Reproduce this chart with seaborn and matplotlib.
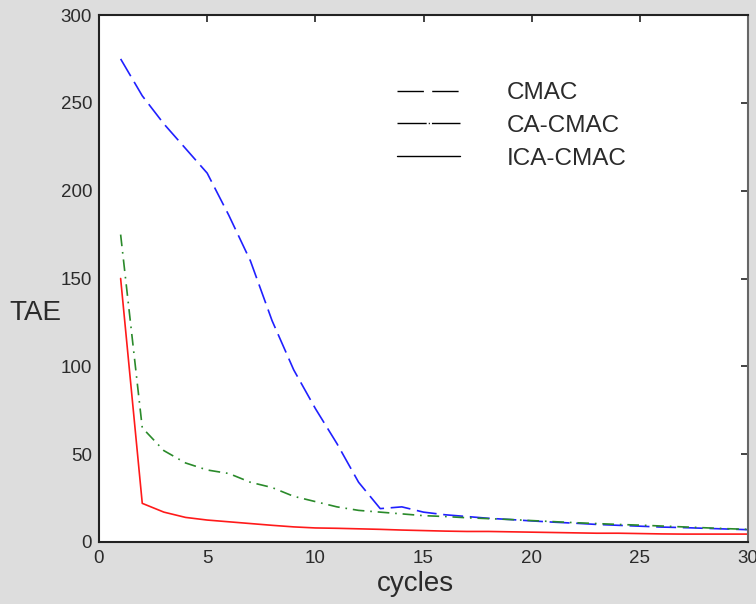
import matplotlib
matplotlib.use("Agg")
import matplotlib.pyplot as plt
from matplotlib.lines import Line2D
import numpy as np
import pandas as pd
import seaborn as sns

cycles = list(range(1, 31))
cmac = [275, 254, 238, 224, 210, 186, 160, 126, 98, 76, 56, 34, 19, 20, 17,
        15.5, 14.5, 13.5, 12.8, 12, 11.3, 10.7, 10, 9.5, 9, 8.5, 8.2, 7.8, 7.4, 7]
ca_cmac = [175, 65, 52, 45, 41, 39, 34, 31, 26, 23, 20, 18, 17, 16, 15,
           14.5, 13.8, 13.3, 12.8, 12.2, 11.6, 11, 10.5, 10, 9.6, 9.1, 8.6, 8.1, 7.6, 7.2]
ica_cmac = [150, 22, 17, 14, 12.5, 11.5, 10.5, 9.5, 8.6, 8, 7.8, 7.5, 7.2, 6.8, 6.5,
            6.2, 6, 6, 5.8, 5.6, 5.4, 5.2, 5, 5, 4.8, 4.6, 4.5, 4.5, 4.5, 4.5]
series_names = ["CMAC", "CA-CMAC", "ICA-CMAC"]
x_ticks = [0, 5, 10, 15, 20, 25, 30]
y_ticks = [0, 50, 100, 150, 200, 250, 300]

df = pd.DataFrame({
    "cycles": cycles * 3,
    "TAE": cmac + ca_cmac + ica_cmac,
    "method": [series_names[0]] * 30 + [series_names[1]] * 30 + [series_names[2]] * 30,
})

sns.set_theme(style="white")
plt.rcParams["font.family"] = ["Liberation Sans", "DejaVu Sans"]

bg = "#dddddd"
fig = plt.figure(figsize=(7.56, 6.04), dpi=100, facecolor=bg)
ax = fig.add_axes([99 / 756, 1 - 542 / 604, 649 / 756, 527 / 604])
ax.set_facecolor("white")

palette = {"CMAC": "#2020ff", "CA-CMAC": "#2a8a2a", "ICA-CMAC": "#ff1a1a"}
dashes = {"CMAC": (12, 4), "CA-CMAC": (7, 3.5, 1, 3.5), "ICA-CMAC": ""}
sns.lineplot(data=df, x="cycles", y="TAE", hue="method", style="method",
             palette=palette, dashes=dashes, linewidth=1.2, legend=False, ax=ax)

ax.set_xlim(0, 30)
ax.set_ylim(0, 300)
ax.set_xticks(x_ticks)
ax.set_yticks(y_ticks)
ax.tick_params(direction="in", length=5, width=1.2, color="#222222",
               labelsize=13.5, labelcolor="#2b2b2b", top=True, right=True)
ax.tick_params(axis="x", pad=6)
ax.tick_params(axis="y", pad=5)

for side in ["left", "bottom", "top"]:
    ax.spines[side].set_color("#222222")
    ax.spines[side].set_linewidth(1.5)
ax.spines["right"].set_color("#666666")
ax.spines["right"].set_linewidth(1.5)

ax.set_xlabel("")
ax.set_ylabel("")
ax.text(-0.098, 0.435, "TAE", transform=ax.transAxes, ha="center", va="center",
        fontsize=20, color="#2b2b2b")
ax.text(0.487, -0.055, "cycles", transform=ax.transAxes, ha="center", va="top",
        fontsize=20, color="#2b2b2b")

handles = [
    Line2D([], [], color="black", linewidth=1.0, dashes=(19, 6)),
    Line2D([], [], color="black", linewidth=1.0, dashes=(21, 1.5, 0.8, 1.5)),
    Line2D([], [], color="black", linewidth=1.0),
]
leg = ax.legend(handles, series_names, loc="upper left",
                bbox_to_anchor=(397 / 756, 1 - 82 / 604),
                bbox_transform=fig.transFigure, frameon=False,
                fontsize=17.5, handlelength=2.6, handletextpad=1.9,
                labelspacing=0.45, borderpad=0, borderaxespad=0)
for t in leg.get_texts():
    t.set_color("#2b2b2b")

fig.savefig("out.png", dpi=100, facecolor=bg)
